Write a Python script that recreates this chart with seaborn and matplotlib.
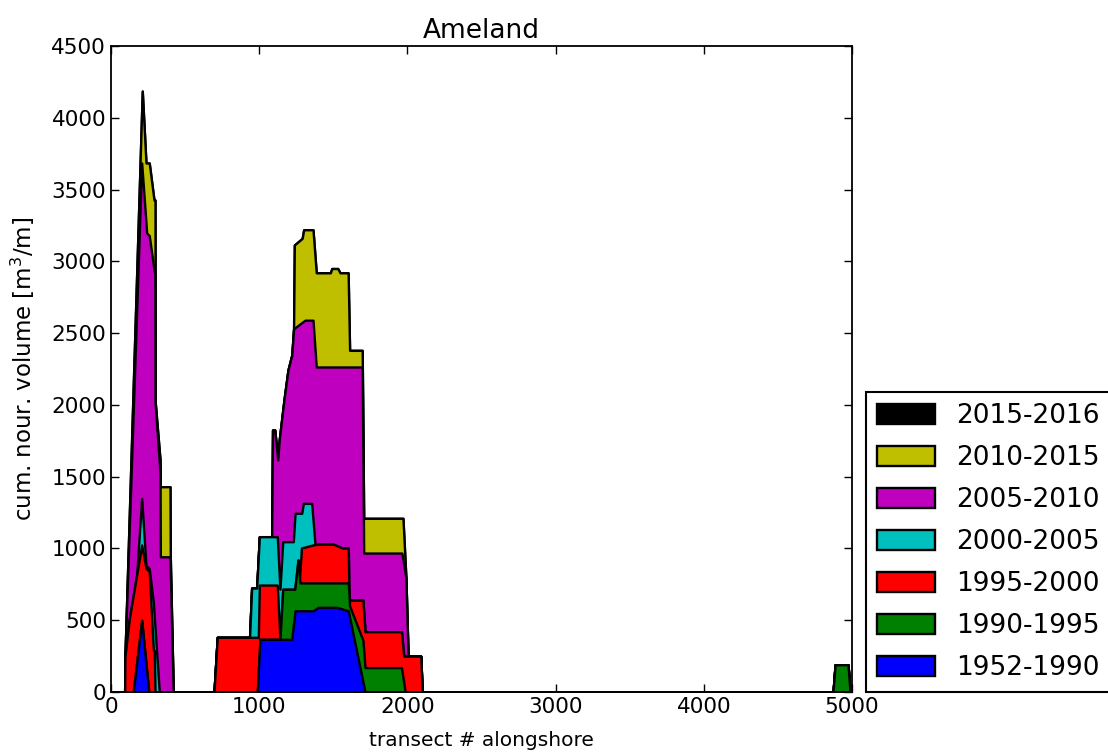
import numpy as np
import matplotlib
matplotlib.use("Agg")
import matplotlib.pyplot as plt
import seaborn as sns

# cumulative nourishment volume (m3/m) per transect, summed up to the end of each period
periods = ['2015-2016', '2010-2015', '2005-2010', '2000-2005', '1995-2000', '1990-1995', '1952-1990']
colors = ['#000000', '#bfbf00', '#bf00bf', '#00bfbf', '#ff0000', '#008000', '#0000ff']

x_1990 = [0, 150, 207, 255, 987, 1005, 1219, 1242, 1365, 1397, 1523, 1601, 1714, 5000]
v_1990 = [0, 0, 500, 0, 0, 367, 367, 566, 566, 590, 590, 566, 0, 0]

x_1995 = [0, 150, 207, 255, 987, 1005, 1140, 1159, 1240, 1262, 1275, 1601, 1610, 1700, 1714,
          1960, 1985, 4872, 4886, 4973, 4987, 5000]
v_1995 = [0, 0, 500, 0, 0, 367, 367, 716, 716, 920, 760, 760, 600, 360, 170,
          170, 0, 0, 190, 190, 0, 0]

x_2000 = [0, 92, 94, 124, 207, 236, 258, 286, 292, 297, 695, 717, 994, 1001, 1122, 1140, 1159,
          1240, 1262, 1272, 1285, 1360, 1400, 1500, 1560, 1601, 1606, 1700, 1714, 1960, 1975,
          2090, 2100, 4872, 4886, 4973, 4987, 5000]
v_2000 = [0, 0, 246, 513, 1024, 862, 840, 290, 290, 0, 0, 381, 381, 745, 745, 367, 716,
          716, 920, 790, 1003, 1024, 1030, 1030, 1003, 1003, 640, 640, 420, 420, 250,
          250, 0, 0, 190, 190, 0, 0]

x_2005 = [0, 92, 94, 124, 173, 207, 236, 258, 286, 305, 326, 695, 717, 935, 949, 983, 1001,
          1122, 1140, 1159, 1230, 1242, 1287, 1298, 1354, 1377, 1400, 1500, 1560, 1601, 1606,
          1700, 1714, 1960, 1975, 2090, 2100, 4872, 4886, 4973, 4987, 5000]
v_2005 = [0, 0, 246, 513, 815, 1349, 880, 860, 620, 320, 0, 0, 381, 381, 724, 724, 1082,
          1082, 716, 1047, 1047, 1245, 1245, 1314, 1314, 1024, 1030, 1030, 1003, 1003, 640,
          640, 420, 420, 250, 250, 0, 0, 190, 190, 0, 0]

x_2010 = [0, 92, 94, 207, 241, 258, 292, 296, 297, 331, 333, 398, 420, 695, 717, 935, 949, 983,
          1001, 1084, 1090, 1105, 1125, 1135, 1167, 1194, 1220, 1232, 1270, 1309, 1363, 1385,
          1695, 1705, 1963, 1990, 2000, 2005, 2090, 2100, 4872, 4886, 4973, 4987, 5000]
v_2010 = [0, 0, 246, 3685, 3197, 3180, 2928, 2928, 2022, 1525, 942, 942, 0, 0, 381, 381, 724, 724,
          1082, 1082, 1825, 1825, 1616, 1755, 2034, 2243, 2348, 2530, 2560, 2590, 2590, 2264,
          2264, 968, 968, 794, 420, 250, 250, 0, 0, 190, 190, 0, 0]

x_2015 = [0, 92, 94, 211, 236, 258, 290, 297, 298, 331, 333, 398, 400, 420, 695, 717, 935, 949,
          983, 1001, 1084, 1090, 1105, 1125, 1135, 1167, 1194, 1220, 1232, 1237, 1290, 1300,
          1363, 1385, 1480, 1490, 1530, 1545, 1600, 1610, 1695, 1705, 1970, 1990, 2000, 2005,
          2090, 2100, 4872, 4886, 4973, 4987, 5000]
v_2015 = [0, 0, 246, 4186, 3685, 3685, 3427, 3427, 2022, 1616, 1430, 1430, 942, 0, 0, 381, 381, 724,
          724, 1082, 1082, 1825, 1825, 1616, 1755, 2034, 2243, 2348, 2530, 3114, 3160, 3220,
          3220, 2920, 2920, 2950, 2950, 2920, 2920, 2380, 2380, 1210, 1210, 794, 420, 250,
          250, 0, 0, 190, 190, 0, 0]

# no nourishments in 2015-2016
x_2016 = list(x_2015)
v_2016 = list(v_2015)

series = [(x_2016, v_2016), (x_2015, v_2015), (x_2010, v_2010), (x_2005, v_2005),
          (x_2000, v_2000), (x_1995, v_1995), (x_1990, v_1990)]

sns.set_theme(style="ticks", rc={
    'axes.edgecolor': 'black', 'axes.linewidth': 1.3,
    'xtick.direction': 'in', 'ytick.direction': 'in',
    'xtick.top': True, 'ytick.right': True,
    'xtick.major.size': 6, 'ytick.major.size': 6,
    'xtick.color': 'black', 'ytick.color': 'black',
    'text.color': 'black', 'axes.labelcolor': 'black',
})
plt.rcParams['font.family'] = ['DejaVu Sans']

fig = plt.figure(figsize=(11.08, 7.54), dpi=100)
ax = fig.add_axes([111 / 1108, 1 - 692 / 754, (852 - 111) / 1108, (692 - 46) / 754])

handles = []
for (xs, vs), per, col in zip(series, periods, colors):
    h = ax.fill_between(np.array(xs), 0, np.array(vs), facecolor=col, edgecolor='black',
                        linewidth=1.7, label=per)
    handles.append(h)

ax.set_xlim(0, 5000)
ax.set_ylim(0, 4500)
ax.set_xticks(np.arange(0, 5001, 1000))
ax.set_yticks(np.arange(0, 4501, 500))
ax.tick_params(labelsize=15.5, width=1)
ax.set_xlabel('transect # alongshore', fontsize=14.5, labelpad=10)
ax.set_ylabel('cum. nour. volume [m$^3$/m]', fontsize=16.5, labelpad=10)
ax.set_title('Ameland', fontsize=19, pad=6)

leg = fig.legend(handles=handles, loc='lower left', bbox_to_anchor=(866 / 1108, 1 - 692 / 754),
                 bbox_transform=fig.transFigure, borderaxespad=0, fontsize=19,
                 handlelength=2.2, handleheight=0.8, handletextpad=0.8, labelspacing=0.61,
                 fancybox=False, framealpha=1, edgecolor='black')
leg.get_frame().set_linewidth(1.5)

fig.savefig('out.png', dpi=100)
